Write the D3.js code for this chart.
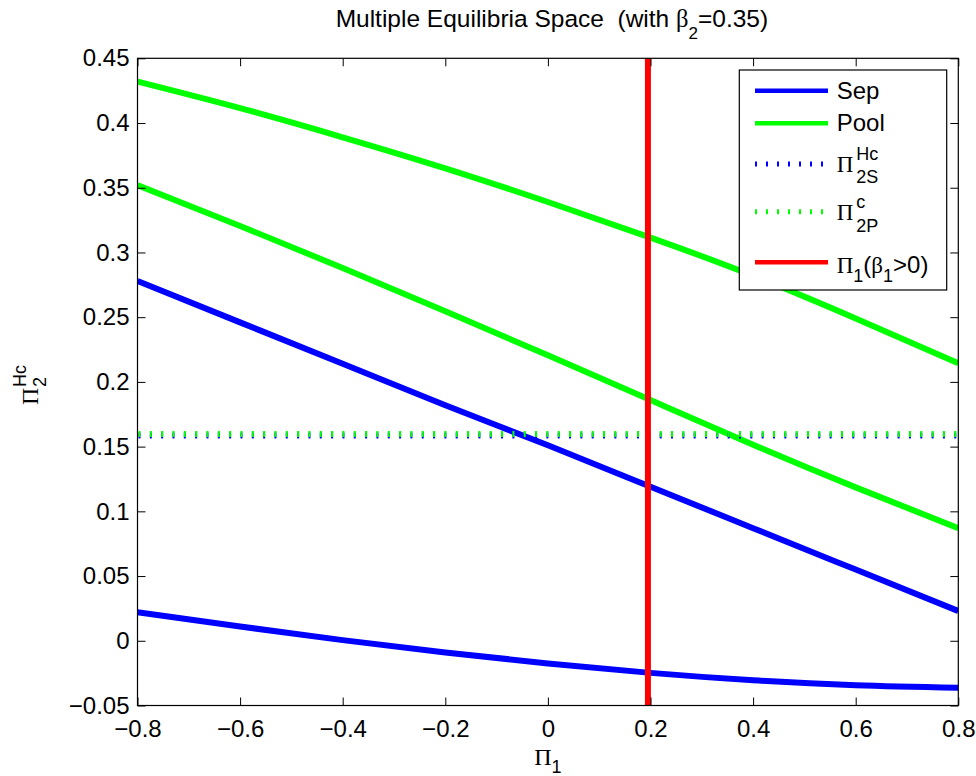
<!DOCTYPE html>
<html>
<head>
<meta charset="utf-8">
<script src="https://cdn.jsdelivr.net/npm/d3@7"></script>
<style>
  body { margin: 0; background: #fff; }
  svg { display: block; }
</style>
</head>
<body>
<svg id="chart"></svg>
<script>
const piOne = [-0.8, -0.6, -0.4, -0.2, 0, 0.2, 0.4, 0.6, 0.8];

// separating equilibria bounds (blue)
const sepUpper = [0.278, 0.246, 0.214, 0.182, 0.151, 0.119, 0.087, 0.055, 0.023];
const sepLower = [0.022, 0.011, 0.0005, -0.009, -0.0175, -0.0248, -0.0305, -0.0343, -0.0362];

// pooling equilibria bounds (green)
const poolUpper = [0.432, 0.4115, 0.389, 0.365, 0.339, 0.3115, 0.282, 0.249, 0.2145];
const poolLower = [0.352, 0.3205, 0.288, 0.2545, 0.2205, 0.186, 0.1515, 0.1185, 0.087];

// horizontal thresholds (dotted)
const pi2SHc = 0.1585;
const pi2Pc = 0.1598;

// vertical line Pi_1 (beta_1 > 0)
const pi1Beta = 0.195;

// axis ticks
const xTicks = [-0.8, -0.6, -0.4, -0.2, 0, 0.2, 0.4, 0.6, 0.8];
const xTickLabels = ["\u22120.8", "\u22120.6", "\u22120.4", "\u22120.2", "0", "0.2", "0.4", "0.6", "0.8"];
const yTicks = [-0.05, 0, 0.05, 0.1, 0.15, 0.2, 0.25, 0.3, 0.35, 0.4, 0.45];
const yTickLabels = ["\u22120.05", "0", "0.05", "0.1", "0.15", "0.2", "0.25", "0.3", "0.35", "0.4", "0.45"];

const W = 976, H = 776;
const pLeft = 137.5, pRight = 958.3, pTop = 58.3, pBottom = 705.5;
const sans = "'Liberation Sans', Arial, Helvetica, sans-serif";
const serif = "'Liberation Serif', 'Times New Roman', serif";
const BLUE = "#0000ff", GREEN = "#00ff00", RED = "#ff0000";

const svg = d3.select("#chart").attr("width", W).attr("height", H);

const x = d3.scaleLinear().domain([-0.8, 0.8]).range([pLeft, pRight]);
const y = d3.scaleLinear().domain([-0.05, 0.45]).range([pBottom, pTop]);

// clip to the axes box
svg.append("clipPath").attr("id", "plotclip")
  .append("rect")
  .attr("x", pLeft).attr("y", pTop)
  .attr("width", pRight - pLeft).attr("height", pBottom - pTop);

const plot = svg.append("g").attr("clip-path", "url(#plotclip)");

const line = d3.line()
  .x((d, i) => x(piOne[i]))
  .y(d => y(d))
  .curve(d3.curveNatural);

// curves
[[sepUpper, BLUE], [sepLower, BLUE], [poolUpper, GREEN], [poolLower, GREEN]].forEach(([vals, col]) => {
  plot.append("path")
    .datum(vals)
    .attr("d", line)
    .attr("fill", "none")
    .attr("stroke", col)
    .attr("stroke-width", 6);
});

// dotted thresholds
[[pi2SHc, BLUE], [pi2Pc, GREEN]].forEach(([v, col]) => {
  plot.append("line")
    .attr("x1", x(-0.8)).attr("x2", x(0.8))
    .attr("y1", y(v)).attr("y2", y(v))
    .attr("stroke", col)
    .attr("stroke-width", 6)
    .attr("stroke-dasharray", "2,9.33")
    .attr("stroke-dashoffset", -1);
});

// red vertical
plot.append("line")
  .attr("x1", x(pi1Beta)).attr("x2", x(pi1Beta))
  .attr("y1", y(0.45)).attr("y2", y(-0.05))
  .attr("stroke", RED)
  .attr("stroke-width", 6);

// axes
function styleAxis(g) {
  g.select(".domain").remove();
  g.selectAll(".tick line").attr("stroke", "#000").attr("stroke-width", 1);
  g.selectAll("text").attr("font-family", sans).attr("font-size", 24).attr("fill", "#000");
}

svg.append("g")
  .attr("transform", `translate(0,${pBottom})`)
  .call(d3.axisBottom(x).tickValues(xTicks).tickSize(-8).tickPadding(14)
    .tickFormat((d, i) => xTickLabels[i]))
  .call(styleAxis);

svg.append("g")
  .attr("transform", `translate(0,${pTop})`)
  .call(d3.axisTop(x).tickValues(xTicks).tickSize(-8).tickFormat(""))
  .call(styleAxis);

svg.append("g")
  .attr("transform", `translate(${pLeft},0)`)
  .call(d3.axisLeft(y).tickValues(yTicks).tickSize(-8).tickPadding(8)
    .tickFormat((d, i) => yTickLabels[i]))
  .call(styleAxis);

svg.append("g")
  .attr("transform", `translate(${pRight},0)`)
  .call(d3.axisRight(y).tickValues(yTicks).tickSize(-8).tickFormat(""))
  .call(styleAxis);

// box
svg.append("rect")
  .attr("x", pLeft).attr("y", pTop)
  .attr("width", pRight - pLeft).attr("height", pBottom - pTop)
  .attr("fill", "none")
  .attr("stroke", "#000")
  .attr("stroke-width", 1.2);

// title
const title = svg.append("text")
  .attr("x", (pLeft + pRight) / 2 + 4)
  .attr("y", 26.7)
  .attr("text-anchor", "middle")
  .attr("font-family", sans)
  .attr("font-size", 24.5)
  .attr("fill", "#000");
title.append("tspan").text("Multiple Equilibria Space\u00a0\u00a0(with ");
title.append("tspan").attr("font-family", serif).text("\u03b2");
title.append("tspan").attr("font-size", 17).attr("dy", 12).text("2");
title.append("tspan").attr("dy", -12).text("=0.35)");

// x label
const xl = svg.append("text")
  .attr("x", (pLeft + pRight) / 2)
  .attr("y", 765)
  .attr("text-anchor", "middle")
  .attr("fill", "#000");
xl.append("tspan").attr("font-family", serif).attr("font-size", 24).text("\u03a0");
xl.append("tspan").attr("font-family", sans).attr("font-size", 18).attr("dy", 8).text("1");

// y label (rotated)
const yl = svg.append("g").attr("transform", "translate(38,405) rotate(-90)");
yl.append("text").attr("x", 0).attr("y", 0)
  .attr("font-family", serif).attr("font-size", 24).attr("fill", "#000").text("\u03a0");
yl.append("text").attr("x", 18).attr("y", 8)
  .attr("font-family", sans).attr("font-size", 18).attr("fill", "#000").text("2");
yl.append("text").attr("x", 18).attr("y", -12)
  .attr("font-family", sans).attr("font-size", 18).attr("fill", "#000").text("Hc");

// legend
const legX = 739.3, legY = 70, legW = 207.4, legH = 220;
const legend = svg.append("g");
legend.append("rect")
  .attr("x", legX).attr("y", legY)
  .attr("width", legW).attr("height", legH)
  .attr("fill", "#fff")
  .attr("stroke", "#000")
  .attr("stroke-width", 1.2);

const sx1 = 755, sx2 = 828, tx = 836.7;

function sample(yy, col, dotted) {
  const l = legend.append("line")
    .attr("x1", sx1).attr("x2", sx2)
    .attr("y1", yy).attr("y2", yy)
    .attr("stroke", col);
  if (dotted) {
    l.attr("stroke-width", 5).attr("stroke-dasharray", "2,9");
  } else {
    l.attr("stroke-width", 4.5);
  }
}

function ltext(xx, yy, str, size, fam) {
  return legend.append("text")
    .attr("x", xx).attr("y", yy)
    .attr("font-family", fam || sans)
    .attr("font-size", size)
    .attr("fill", "#000")
    .text(str);
}

// Sep
sample(90.7, BLUE, false);
ltext(tx, 99.3, "Sep", 24);
// Pool
sample(123.3, GREEN, false);
ltext(tx, 131, "Pool", 24);
// Pi_2S^Hc
sample(164, BLUE, true);
ltext(tx, 171.7, "\u03a0", 23, serif);
ltext(tx + 19.5, 160, "Hc", 18);
ltext(tx + 19.5, 183.3, "2S", 18);
// Pi_2P^c
sample(211.7, GREEN, true);
ltext(tx, 220, "\u03a0", 23, serif);
ltext(tx + 19.5, 208, "c", 18);
ltext(tx + 19.5, 231.7, "2P", 18);
// Pi_1(beta_1>0)
sample(262.3, RED, false);
const t5 = legend.append("text")
  .attr("x", tx).attr("y", 273.3)
  .attr("font-family", sans).attr("font-size", 24).attr("fill", "#000");
t5.append("tspan").attr("font-family", serif).attr("font-size", 23).text("\u03a0");
t5.append("tspan").attr("font-size", 18).attr("dy", 8.4).text("1");
t5.append("tspan").attr("dy", -8.4).text("(");
t5.append("tspan").attr("font-family", serif).attr("font-size", 23).text("\u03b2");
t5.append("tspan").attr("font-size", 18).attr("dy", 8.4).text("1");
t5.append("tspan").attr("dy", -8.4).text(">0)");
</script>
</body>
</html>
